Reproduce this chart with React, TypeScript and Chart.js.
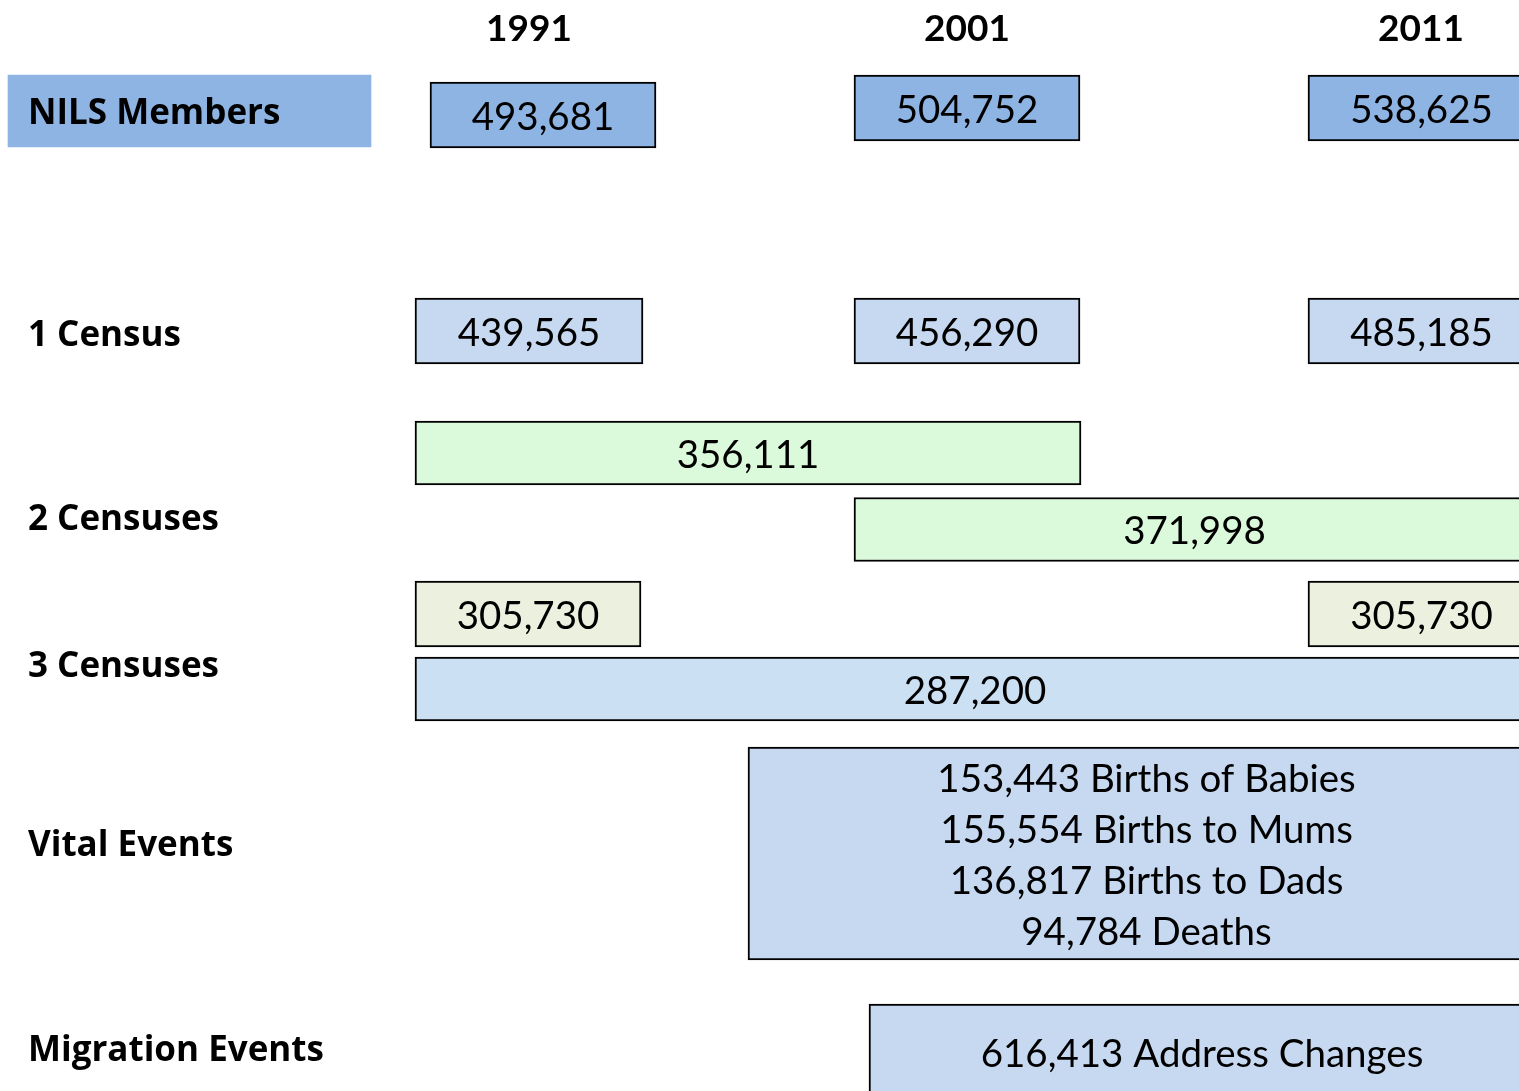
import React, { useEffect, useRef } from 'react';
import { Chart, registerables } from 'chart.js';

Chart.register(...registerables);

// ---- content ----
const years = ['1991', '2001', '2011'];
const rowLabels = ['NILS Members', '1 Census', '2 Censuses', '3 Censuses', 'Vital Events', 'Migration Events'];
const membersValues = ['493,681', '504,752', '538,625'];
const oneCensusValues = ['439,565', '456,290', '485,185'];
const twoCensusValues = ['356,111', '371,998'];
const threeCensusPairValues = ['305,730', '305,730'];
const allCensusValues = ['287,200'];
const vitalEvents = ['153,443 Births of Babies', '155,554 Births to Mums', '136,817 Births to Dads', '94,784 Deaths'];
const migrationEvents = ['616,413 Address Changes'];

// ---- layout (diagram units on the x / y scales) ----
const yearX = [529, 967, 1421];
const yearY = 29;
const rowLabelX = 28;
const rowLabelY = [114, 336, 520, 667, 846, 1051];
const membersSpans = [[430, 656], [854, 1080], [1308, 1535]];
const membersRowY = [115, 108, 108];
const oneCensusSpans = [[415, 643], [854, 1080], [1308, 1535]];
const oneCensusRowY = [331, 331, 331];
const twoCensusSpans = [[415, 1081], [854, 1535]];
const twoCensusRowY = [453, 529.5];
const threeCensusPairSpans = [[415, 641], [1308, 1535]];
const threeCensusPairRowY = [614, 614];
const allCensusSpans = [[415, 1535]];
const allCensusRowY = [689];
const vitalSpans = [[748, 1545]];
const vitalRowY = [853.5];
const migrationSpans = [[869, 1535]];
const migrationRowY = [1052];
const labelBoxSpan = [[8, 371]];
const labelBoxY = [111];

const BOX_FONT = 'Lato, "Open Sans", sans-serif';
const LABEL_FONT = '"Open Sans", Lato, sans-serif';

function pts(spans: number[][], ys: number[]) {
  return spans.map((s, i) => ({ x: [s[0], s[1]], y: ys[i] }));
}

const textPlugin = {
  id: 'boxText',
  afterDatasetsDraw(chart: any) {
    const ctx = chart.ctx;
    const xs = chart.scales.x;
    const ys = chart.scales.y;
    ctx.save();
    ctx.fillStyle = '#000';
    ctx.textAlign = 'center';
    ctx.textBaseline = 'middle';
    // box texts
    chart.data.datasets.forEach((ds: any, di: number) => {
      if (!ds.texts) return;
      const meta = chart.getDatasetMeta(di);
      meta.data.forEach((el: any, i: number) => {
        const t = ds.texts[i];
        if (t == null) return;
        const lines = Array.isArray(t) ? t : [t];
        const cx = (el.x + el.base) / 2;
        const cy = el.y;
        ctx.font = `400 38.5px ${BOX_FONT}`;
        const lh = ds.lineHeight || 51;
        lines.forEach((line: string, li: number) => {
          const off = (li - (lines.length - 1) / 2) * lh;
          ctx.fillText(line, cx, cy + off + 2.5);
        });
      });
    });
    // year headers
    ctx.font = `700 37px ${BOX_FONT}`;
    years.forEach((y, i) => {
      ctx.fillText(y, xs.getPixelForValue(yearX[i]), ys.getPixelForValue(yearY));
    });
    // row labels
    ctx.textAlign = 'left';
    ctx.font = `700 35px ${LABEL_FONT}`;
    rowLabels.forEach((l, i) => {
      ctx.fillText(l, xs.getPixelForValue(rowLabelX), ys.getPixelForValue(rowLabelY[i]));
    });
    ctx.restore();
  },
};

export default function App() {
  const ref = useRef<HTMLCanvasElement>(null);
  useEffect(() => {
    if (!ref.current) return;
    const common = {
      type: 'bar',
      borderColor: '#000000',
      borderWidth: 2,
      borderSkipped: false,
      grouped: false,
    };
    const chart = new Chart(ref.current, {
      type: 'bar',
      data: {
        datasets: [
          { ...common, data: pts(labelBoxSpan, labelBoxY), backgroundColor: '#8EB4E3', borderWidth: 0, barThickness: 72 },
          { ...common, data: pts(membersSpans, membersRowY), backgroundColor: '#8EB4E3', barThickness: 66, texts: membersValues },
          { ...common, data: pts(oneCensusSpans, oneCensusRowY), backgroundColor: '#C6D9F1', barThickness: 66, texts: oneCensusValues },
          { ...common, data: pts(twoCensusSpans, twoCensusRowY), backgroundColor: '#DBF9DB', barThickness: 64, texts: twoCensusValues },
          { ...common, data: pts(threeCensusPairSpans, threeCensusPairRowY), backgroundColor: '#EBF1DE', barThickness: 66, texts: threeCensusPairValues },
          { ...common, data: pts(allCensusSpans, allCensusRowY), backgroundColor: '#CCE0F4', barThickness: 64, texts: allCensusValues },
          { ...common, data: pts(vitalSpans, vitalRowY), backgroundColor: '#C6D9F1', barThickness: 213, texts: [vitalEvents], lineHeight: 51 },
          { ...common, data: pts(migrationSpans, migrationRowY), backgroundColor: '#C6D9F1', barThickness: 96, texts: migrationEvents },
        ] as any,
      },
      options: {
        indexAxis: 'y',
        animation: false,
        responsive: false,
        events: [],
        layout: { padding: 0 },
        plugins: { legend: { display: false }, tooltip: { enabled: false }, title: { display: false } },
        scales: {
          x: { type: 'linear', min: 0, max: 1519, display: false, offset: false },
          y: { type: 'linear', min: 0, max: 1091, reverse: true, display: false, offset: false },
        },
      } as any,
      plugins: [textPlugin],
    });
    return () => chart.destroy();
  }, []);
  return (
    <div style={{ position: 'absolute', left: 0, top: 0, width: 1519, height: 1091, background: '#fff' }}>
      <canvas ref={ref} width={1519} height={1091} style={{ display: 'block' }} />
    </div>
  );
}
